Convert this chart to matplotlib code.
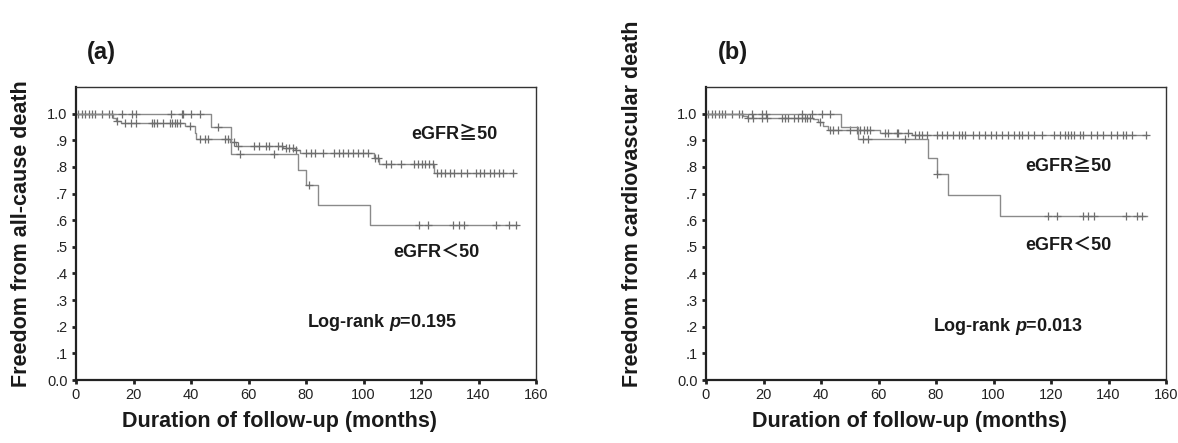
import numpy as np
import matplotlib
matplotlib.use("Agg")
import matplotlib.pyplot as plt

plt.rcParams['font.family'] = ['Liberation Sans', 'Noto Sans CJK JP', 'DejaVu Sans']
plt.rcParams['mathtext.fontset'] = 'custom'
plt.rcParams['mathtext.rm'] = 'Liberation Sans:bold'
plt.rcParams['mathtext.it'] = 'Liberation Sans:bold:italic'

# ---- panel (a): all-cause death ----
a_hi_drop_t = [12.7, 14.0, 15.5, 37.8, 41.3, 41.9, 53.5, 55.8, 72.0, 76.0, 78.0, 103.5, 105.5, 124.6]
a_hi_drop_s = [0.985, 0.972, 0.965, 0.953, 0.928, 0.903, 0.895, 0.880, 0.872, 0.862, 0.853, 0.834, 0.812, 0.778]
a_hi_cens = [0.8, 2, 3.2, 4.4, 5.6, 6.7, 9, 11.4, 12.5, 14.1, 17, 19.3, 21, 26.3, 27.2, 28, 30.3,
             32.6, 33.5, 34.4, 35.2, 36, 39.6, 43, 44.8, 46, 51.7, 52.8, 55, 56.5, 62, 63.5, 66, 67,
             70.3, 71.5, 73, 74.2, 75.5, 76.6, 80, 81.8, 83, 85.8, 89.9, 91.6, 92.8, 94.5, 96.3, 98,
             99.7, 101.5, 104, 105, 107.8, 109.6, 113, 117.7, 119, 120.3, 121.5, 122.7, 124,
             125.5, 127, 128.5, 130, 131.5, 134, 136, 139, 140.5, 142, 144, 145.5, 147, 148.5, 152]
a_hi_end = 152.4

a_lo_drop_t = [47.0, 54.0, 77.2, 80.1, 84.1, 102.4]
a_lo_drop_s = [0.950, 0.850, 0.790, 0.731, 0.656, 0.583]
a_lo_cens = [16, 19.5, 21, 33.2, 36.7, 37.3, 40.1, 43, 49.4, 57, 69, 80.9,
             119.4, 122.3, 131, 133.3, 135.1, 146, 150.7, 153]
a_lo_end = 153.4

# ---- panel (b): cardiovascular death ----
b_hi_drop_t = [13.0, 14.2, 37.3, 39.0, 40.8, 42.5, 60.5, 71.5]
b_hi_drop_s = [0.991, 0.985, 0.978, 0.970, 0.953, 0.940, 0.928, 0.920]
b_hi_cens = [0.8, 2, 3.2, 4.4, 5.6, 6.7, 9, 11.4, 12.5, 14.6, 16.5, 19.4, 21.1, 26.3, 27.5, 28.5,
             30.5, 32, 33.5, 34.5, 35.3, 36.2, 39.6, 43.1, 44.3, 46, 50, 52.4, 53.5, 55, 56, 57,
             62.3, 63.3, 66.3, 66.8, 70.4, 72.7, 74, 75.3, 76.8, 80.2, 82, 83.7, 86, 88, 89, 90,
             93, 95, 97, 99, 101, 103, 105, 107, 109, 110, 112, 114, 117, 121, 123, 125, 126,
             127, 128, 130, 131, 134, 136, 138, 141, 143, 145, 146, 148, 153]
b_hi_end = 153.3

b_lo_drop_t = [47.0, 53.0, 77.1, 80.2, 84.0, 102.3]
b_lo_drop_s = [0.950, 0.903, 0.834, 0.774, 0.694, 0.617]
b_lo_cens = [16, 19.5, 21, 33.3, 36.8, 40.2, 43.1, 54.7, 56.5, 69.2, 80.5,
             119.1, 122, 131, 133, 135, 146, 149.8, 151.5]
b_lo_end = 153.3

panels = [
    dict(tag='(a)', ylabel='Freedom from all-cause death', p='0.195',
         curves=[(a_hi_drop_t, a_hi_drop_s, a_hi_cens, a_hi_end),
                 (a_lo_drop_t, a_lo_drop_s, a_lo_cens, a_lo_end)],
         hi_txt=(131.5, 0.92), lo_txt=(125.2, 0.477), p_txt=(106.6, 0.215)),
    dict(tag='(b)', ylabel='Freedom from cardiovascular death', p='0.013',
         curves=[(b_hi_drop_t, b_hi_drop_s, b_hi_cens, b_hi_end),
                 (b_lo_drop_t, b_lo_drop_s, b_lo_cens, b_lo_end)],
         hi_txt=(126, 0.803), lo_txt=(126, 0.502), p_txt=(105, 0.20)),
]

W, H = 1178, 443
fig = plt.figure(figsize=(W / 100, H / 100), dpi=100)

ax_left = [76, 706]
ylab_x = [22, 632]
tag_x = [87, 718]
xlab_x = [280, 910]
yticks = np.arange(0, 1.01, 0.1)
ylabels = ['0.0', '.1', '.2', '.3', '.4', '.5', '.6', '.7', '.8', '.9', '1.0']
cjk = ['Liberation Sans', 'Noto Sans CJK JP', 'DejaVu Sans']

for i, pnl in enumerate(panels):
    ax = fig.add_axes([ax_left[i] / W, 1 - 380 / H, 460 / W, (380 - 87) / H])
    for t, s, cens, end in pnl['curves']:
        xs = np.r_[0, t, end]
        ys = np.r_[1.0, s, s[-1]]
        ax.step(xs, ys, where='post', color='#8a8a8a', lw=1.0)
        cens = np.asarray(cens)
        idx = np.searchsorted(t, cens, side='right')
        cy = np.r_[1.0, s][idx]
        ax.plot(cens, cy, ls='none', marker='+', ms=6, mew=0.9, color='#6e6e6e')

    ax.set_xlim(0, 160)
    ax.set_ylim(0, 1.1)
    ax.set_xticks(np.arange(0, 161, 20))
    ax.set_yticks(yticks)
    ax.set_yticklabels(ylabels)
    ax.tick_params(direction='out', length=3, width=2, labelsize=10.5,
                   colors='#222222', pad=3)
    for side in ['left', 'bottom']:
        ax.spines[side].set_linewidth(1.6)
        ax.spines[side].set_color('#222222')
    for side in ['top', 'right']:
        ax.spines[side].set_linewidth(1.0)
        ax.spines[side].set_color('#333333')

    ax.text(*pnl['hi_txt'], 'eGFR≧50', family=cjk, fontweight='bold', fontsize=13,
            ha='center', va='center', color='#1a1a1a')
    ax.text(*pnl['lo_txt'], 'eGFR＜50', family=cjk, fontweight='bold', fontsize=13,
            ha='center', va='center', color='#1a1a1a')
    ax.text(*pnl['p_txt'], 'Log-rank $p$=' + pnl['p'], fontweight='bold', fontsize=13,
            ha='center', va='center', color='#1a1a1a')

    fig.text(tag_x[i] / W, 1 - 52 / H, pnl['tag'], fontsize=17, fontweight='bold',
             ha='left', va='center', color='#1a1a1a')
    fig.text(ylab_x[i] / W, 1 - 387 / H, pnl['ylabel'], rotation=90, fontsize=15.5,
             fontweight='bold', ha='center', va='bottom', color='#1a1a1a')
    fig.text(xlab_x[i] / W, 1 - 422 / H, 'Duration of follow-up (months)', fontsize=15.5,
             fontweight='bold', ha='center', va='center', color='#1a1a1a')

fig.savefig('out.png', dpi=100)
